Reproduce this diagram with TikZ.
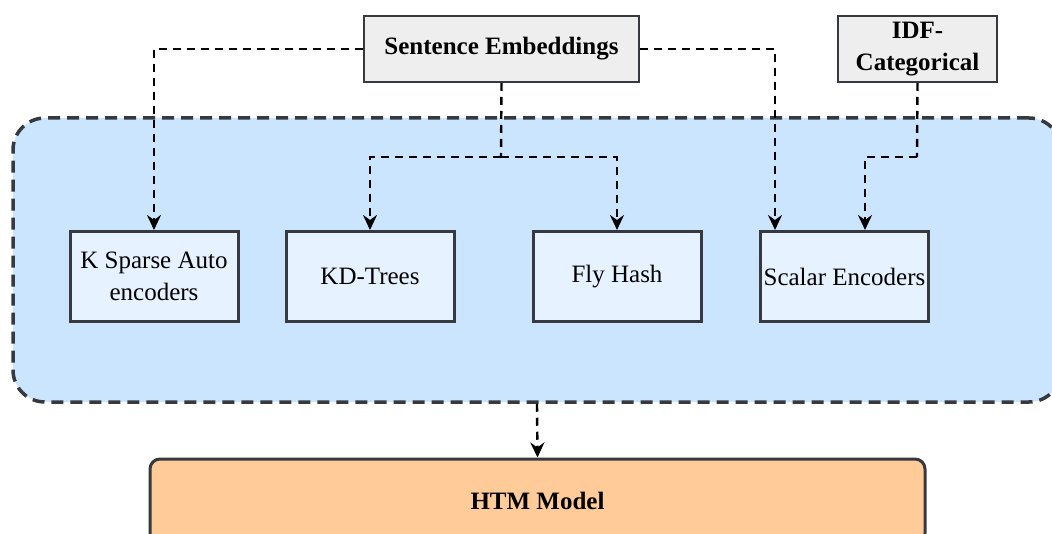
\documentclass[tikz,border=0pt]{standalone}
\usepackage{fontspec}
\setmainfont{Liberation Serif}
\usetikzlibrary{arrows.meta}
\definecolor{edge}{HTML}{36393D}
\definecolor{groupfill}{HTML}{CCE5FF}
\definecolor{encfill}{HTML}{E6F2FF}
\definecolor{srcfill}{HTML}{EEEEEE}
\definecolor{htmfill}{HTML}{FFCC99}
\tikzset{
  txt/.style={font=\fontsize{25}{32}\selectfont, align=center, inner sep=0pt},
  srcbox/.style={txt, font=\fontsize{25}{32}\selectfont\bfseries, draw=edge, line width=2pt, fill=srcfill, minimum height=66pt},
  encbox/.style={txt, draw=edge, line width=3pt, fill=encfill, minimum width=168pt, minimum height=90pt},
  group/.style={draw=edge, line width=3.5pt, dash pattern=on 12pt off 7pt, fill=groupfill, rounded corners=32pt, minimum width=1048pt, minimum height=284pt, inner sep=0pt},
  htmbox/.style={txt, font=\fontsize{25}{32}\selectfont\bfseries, draw=edge, line width=3pt, fill=htmfill, rounded corners=10pt, minimum width=775pt, minimum height=84pt},
  dashline/.style={line width=2.4pt, dash pattern=on 8pt off 6pt},
  link/.style={dashline, -{Stealth[length=15pt, width=14pt, inset=5pt]}},
}
\begin{document}
\begin{tikzpicture}[x=1pt, y=-1pt]
\useasboundingbox (0,0) rectangle (1052,534);
\begin{scope}
\clip (0,0) rectangle (1052,534);

% encoder group
\node[group] (grp) at (537,260) {};

% input sources
\node[srcbox, minimum width=275pt] (se) at (501.5,49) {Sentence Embeddings};
\node[srcbox, minimum width=159pt] (idf) at (917.5,49) {IDF-\\Categorical};

% encoders
\node[encbox] (ks) at (154,276.5) {K Sparse Auto\\encoders};
\node[encbox] (kd) at (370,276.5) {KD-Trees};
\node[encbox] (fly) at (617,276.5) {Fly Hash};
\node[encbox] (sc) at (844.5,276.5) {Scalar Encoders};

% model
\node[htmbox] (htm) at (537.5,501) {HTM Model};

% connectors
\coordinate (split) at (501,157);
\coordinate (idfturn) at (917,157);
\coordinate (scA) at (775,230);
\coordinate (scB) at (865,230);

\draw[link] (se.west) -| (ks.north);
\draw[dashline] (se.south) -- (split);
\draw[link] (split) -| (kd.north);
\draw[link] (split) -| (fly.north);
\draw[link] (se.east) -| (scA);
\draw[dashline] (idf.south) -- (idfturn);
\draw[link] (idfturn) -| (scB);
\draw[link] (grp.south) -- (htm.north);
\end{scope}
\end{tikzpicture}
\end{document}
